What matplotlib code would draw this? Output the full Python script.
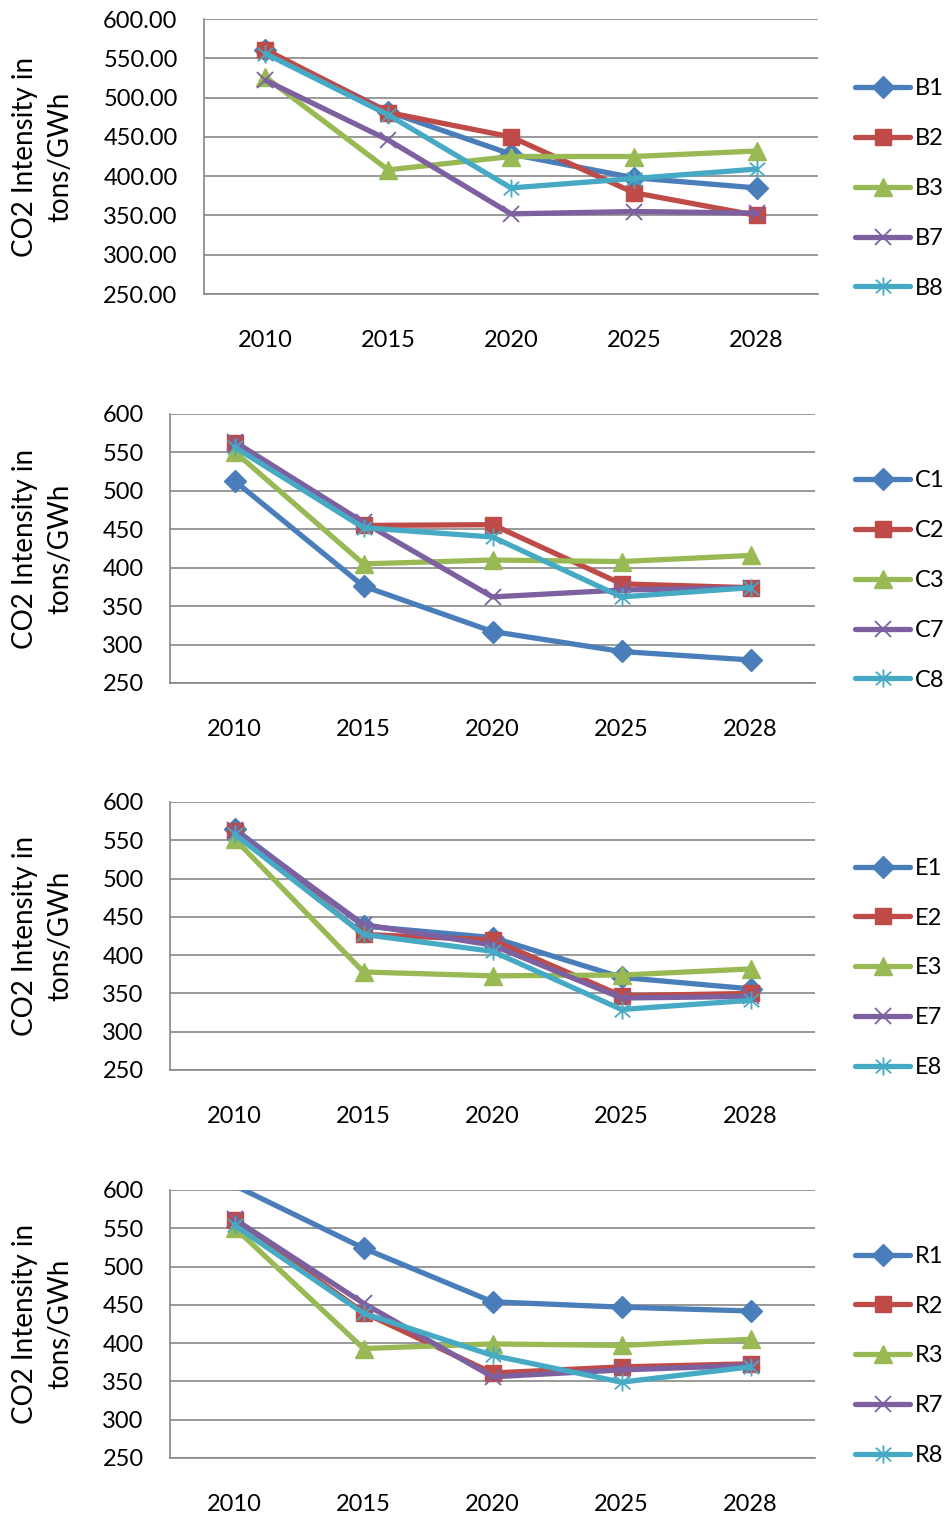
import matplotlib
matplotlib.use("Agg")
import matplotlib.pyplot as plt
from matplotlib.ticker import FormatStrFormatter
from matplotlib.lines import Line2D
from matplotlib.path import Path

plt.rcParams['font.family'] = ['Lato', 'DejaVu Sans']

years = ["2010", "2015", "2020", "2025", "2028"]

# CO2 intensity (tons/GWh) per scenario group
B_names = ["B1", "B2", "B3", "B7", "B8"]
B1 = [560, 482, 428, 398, 385]
B2 = [561, 481, 450, 379, 350]
B3 = [526, 408, 425, 425, 432]
B7 = [522, 446, 352, 355, 353]
B8 = [556, 478, 385, 397, 409]

C_names = ["C1", "C2", "C3", "C7", "C8"]
C1 = [513, 376, 317, 291, 280]
C2 = [562, 455, 456, 379, 374]
C3 = [551, 405, 410, 408, 416]
C7 = [564, 459, 362, 371, 374]
C8 = [557, 452, 440, 362, 374]

E_names = ["E1", "E2", "E3", "E7", "E8"]
E1 = [565, 438, 423, 371, 356]
E2 = [562, 427, 420, 347, 350]
E3 = [552, 378, 373, 374, 382]
E7 = [563, 440, 413, 344, 346]
E8 = [558, 427, 405, 329, 341]

R_names = ["R1", "R2", "R3", "R7", "R8"]
R1 = [606, 524, 454, 447, 442]
R2 = [561, 440, 361, 369, 373]
R3 = [551, 393, 399, 397, 405]
R7 = [562, 452, 356, 365, 371]
R8 = [554, 439, 384, 349, 369]

y_ticks = [250, 300, 350, 400, 450, 500, 550, 600]
Y_MIN, Y_MAX = 250, 600

# star marker: vertical bar crossed by an X
star = Path(
    [(0, -1), (0, 1), (-0.85, -0.75), (0.85, 0.75), (-0.85, 0.75), (0.85, -0.75)],
    [Path.MOVETO, Path.LINETO, Path.MOVETO, Path.LINETO, Path.MOVETO, Path.LINETO],
)

colors = ["#4A7EBB", "#BE4B48", "#98B954", "#7D60A0", "#46AAC5"]
styles = [
    dict(marker="D", ms=11, mew=1),
    dict(marker="s", ms=11, mew=1),
    dict(marker="^", ms=12.5, mew=1),
    dict(marker="x", ms=11.5, mew=1.3),
    dict(marker=star, ms=13, mew=1.3),
]

W, H = 949, 1518
DPI = 100
fig = plt.figure(figsize=(W / DPI, H / DPI), dpi=DPI)
GRID = "#878787"
FS = 17

panels = [
    (B_names, [B1, B2, B3, B7, B8], (204, 818, 19, 294), "%.2f"),
    (C_names, [C1, C2, C3, C7, C8], (170, 815, 414, 683), "%d"),
    (E_names, [E1, E2, E3, E7, E8], (170, 815, 802, 1070), "%d"),
    (R_names, [R1, R2, R3, R7, R8], (170, 815, 1190, 1458), "%d"),
]

x = list(range(len(years)))
for names, series, (l, r, t, b), fmt in panels:
    ax = fig.add_axes([l / W, 1 - b / H, (r - l) / W, (b - t) / H])
    handles = []
    for name, vals, col, st in zip(names, series, colors, styles):
        # markers are only drawn for points inside the value range
        shown = [Y_MIN <= v <= Y_MAX for v in vals]
        ax.plot(x, vals, color=col, lw=3.8, mfc=col, mec=col, markevery=shown,
                solid_capstyle="round", solid_joinstyle="round", **st)
        handles.append(Line2D([0], [0], color=col, lw=3.8, mfc=col, mec=col,
                              solid_capstyle="round", label=name, **st))
    ax.set_xlim(-0.5, len(years) - 0.5)
    ax.set_ylim(Y_MIN, Y_MAX)
    ax.set_yticks(y_ticks)
    ax.yaxis.set_major_formatter(FormatStrFormatter(fmt))
    ax.set_xticks(x)
    ax.set_xticklabels(years)
    ax.tick_params(axis="x", length=0, pad=26, labelsize=FS)
    ax.tick_params(axis="y", length=0, pad=19, labelsize=FS)
    ax.grid(axis="y", color=GRID, lw=1.2)
    ax.set_axisbelow(True)
    for s in ("top", "right"):
        ax.spines[s].set_visible(False)
    for s in ("left", "bottom"):
        ax.spines[s].set_color(GRID)
        ax.spines[s].set_linewidth(1.2)

    yc = (t + b) / 2
    fig.text(43 / W, 1 - yc / H, "CO2 Intensity in\ntons/GWh", rotation=90,
             ha="center", va="center", fontsize=20, linespacing=1.45,
             multialignment="center")
    fig.legend(handles=handles, loc="center left",
               bbox_to_anchor=(855 / W, 1 - (yc + 32) / H),
               frameon=False, fontsize=FS, handlelength=2.35,
               handletextpad=0.2, labelspacing=1.22, borderpad=0,
               borderaxespad=0)

fig.savefig("out.png", dpi=DPI)
